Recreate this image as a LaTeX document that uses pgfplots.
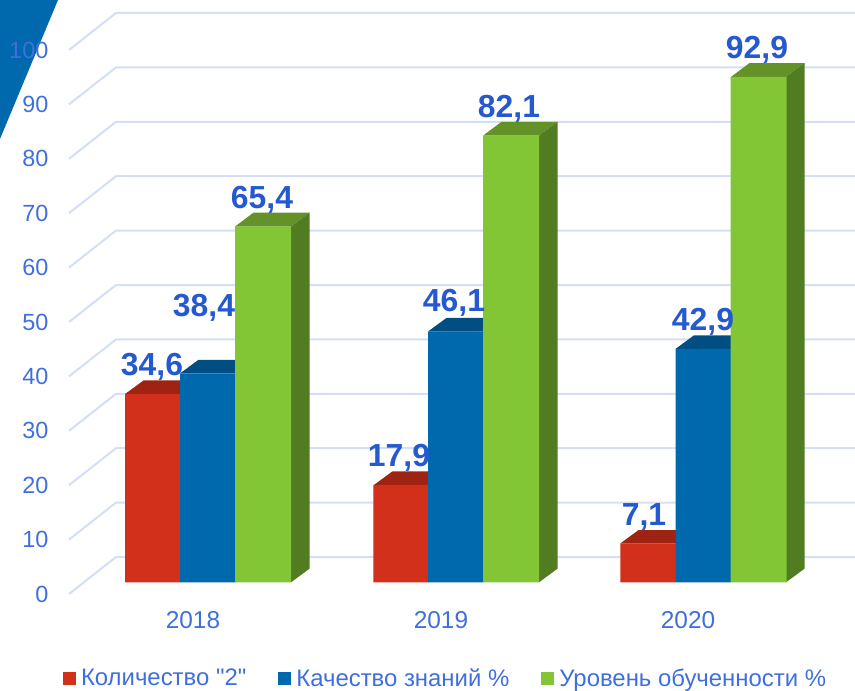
\documentclass[border=0pt]{standalone}
\usepackage{pgfplots}
\pgfplotsset{compat=1.18}
\usepackage{fontspec}
\setmainfont{Liberation Sans}[Ligatures=TeXOff]
\definecolor{tickc}{HTML}{3F6FDC}
\definecolor{valc}{HTML}{2559D0}
\definecolor{gridc}{HTML}{D4DEF5}
\definecolor{redf}{HTML}{D3301C}
\definecolor{redt}{HTML}{9E2312}
\definecolor{bluef}{HTML}{0069AE}
\definecolor{bluet}{HTML}{004E82}
\definecolor{greenf}{HTML}{82C535}
\definecolor{greent}{HTML}{639328}
\definecolor{greens}{HTML}{527C21}
\newcommand{\vallabel}[3]{\node[anchor=base,text=valc,inner sep=0pt,font=\fontsize{32}{36}\selectfont\bfseries] at (axis cs:#1,#2) {#3};}
\newcommand{\gridl}[1]{\addplot[forget plot,draw=gridc,line width=2bp] coordinates {(69,#1-2.15) (116,#1+4.65) (855,#1+4.65)};}
\begin{document}
\begin{tikzpicture}
\begin{axis}[
  scale only axis,
  axis on top,
  width=855bp,height=691bp,
  xmin=0,xmax=855,ymin=-19.98,ymax=107.04,
  axis line style={draw=none},
  tick style={draw=none},
  ytick={-2.15,7.85,17.85,27.85,37.85,47.85,57.85,67.85,77.85,87.85,97.85},
  yticklabels={0,10,20,30,40,50,60,70,80,90,100},
  xtick={193,441,688},
  xticklabels={2018,2019,2020},
  yticklabel style={text=tickc,font=\fontsize{23.5}{27}\selectfont,anchor=east,inner sep=0pt,xshift=48.5bp},
  xticklabel style={text=tickc,font=\fontsize{24.5}{27}\selectfont,anchor=base,inner sep=0pt,yshift=62bp},
  ylabel={},
  legend columns=3,
  legend style={draw=none,fill=none,at={(axis cs:63,-17.6)},anchor=west,
    font=\fontsize{24}{27}\selectfont,text=tickc,inner sep=0pt,outer sep=0pt,
    /tikz/every even column/.append style={column sep=32bp},
    nodes={inner sep=0pt,outer sep=0pt}},
  legend cell align=left,
]
% corner shape
\addplot[forget plot,fill=bluef,draw=none] coordinates {(0,107.04)(58,107.04)(0,81.5)} -- cycle;
% gridlines
\gridl{0}\gridl{10}\gridl{20}\gridl{30}\gridl{40}\gridl{50}\gridl{60}\gridl{70}\gridl{80}\gridl{90}\gridl{100}
% 3D tops and sides
% red
\addplot[forget plot,fill=redt,draw=none] coordinates {(125,34.6)(180.5,34.6)(199,37.1)(143.5,37.1)} -- cycle;
\addplot[forget plot,fill=redt,draw=none] coordinates {(374,17.9)(428,17.9)(446.5,20.4)(392.5,20.4)} -- cycle;
\addplot[forget plot,fill=redt,draw=none] coordinates {(620,7.1)(675.7,7.1)(694.2,9.6)(638.5,9.6)} -- cycle;
% blue
\addplot[forget plot,fill=bluet,draw=none] coordinates {(180,38.4)(235.5,38.4)(254,40.9)(198.5,40.9)} -- cycle;
\addplot[forget plot,fill=bluet,draw=none] coordinates {(428,46.1)(483.5,46.1)(502,48.6)(446.5,48.6)} -- cycle;
\addplot[forget plot,fill=bluet,draw=none] coordinates {(675.5,42.9)(731,42.9)(749.5,45.4)(694,45.4)} -- cycle;
% green
\addplot[forget plot,fill=greent,draw=none] coordinates {(235,65.4)(291,65.4)(309.5,67.95)(253.5,67.95)} -- cycle;
\addplot[forget plot,fill=greent,draw=none] coordinates {(483,82.1)(539,82.1)(557.5,84.65)(501.5,84.65)} -- cycle;
\addplot[forget plot,fill=greent,draw=none] coordinates {(731,92.9)(786,92.9)(804.5,95.45)(749.5,95.45)} -- cycle;
\addplot[forget plot,fill=greens,draw=none] coordinates {(291,0)(309.5,2.5)(309.5,67.95)(291,65.4)} -- cycle;
\addplot[forget plot,fill=greens,draw=none] coordinates {(539,0)(557.5,2.5)(557.5,84.65)(539,82.1)} -- cycle;
\addplot[forget plot,fill=greens,draw=none] coordinates {(786,0)(804.5,2.5)(804.5,95.45)(786,92.9)} -- cycle;
% fronts
\addplot[ybar,bar width=55.5,bar shift=0pt,fill=redf,draw=none,
  legend image code/.code={\fill[redf] (0bp,-6.5bp) rectangle (13bp,6.5bp);\path (18bp,0);}]
  coordinates {(152.75,34.6)(401,17.9)(648,7.1)};
\addlegendentry{Количество "2"}
\addplot[ybar,bar width=55.5,bar shift=0pt,fill=bluef,draw=none,
  legend image code/.code={\fill[bluef] (0bp,-6.5bp) rectangle (13bp,6.5bp);\path (18bp,0);}]
  coordinates {(207.75,38.4)(455.75,46.1)(703.25,42.9)};
\addlegendentry{Качество знаний \%}
\addplot[ybar,bar width=56,bar shift=0pt,fill=greenf,draw=none,
  legend image code/.code={\fill[greenf] (0bp,-6.5bp) rectangle (13bp,6.5bp);\path (18bp,0);}]
  coordinates {(263,65.4)(511,82.1)(758.5,92.9)};
\addlegendentry{Уровень обученности \%}
% value labels
\vallabel{152}{38}{34,6}
\vallabel{204}{48.9}{38,4}
\vallabel{262}{68.8}{65,4}
\vallabel{399}{21.3}{17,9}
\vallabel{454}{49.7}{46,1}
\vallabel{509}{85.5}{82,1}
\vallabel{644}{10.5}{7,1}
\vallabel{703}{46.3}{42,9}
\vallabel{757}{96.2}{92,9}
\end{axis}
\end{tikzpicture}
\end{document}
